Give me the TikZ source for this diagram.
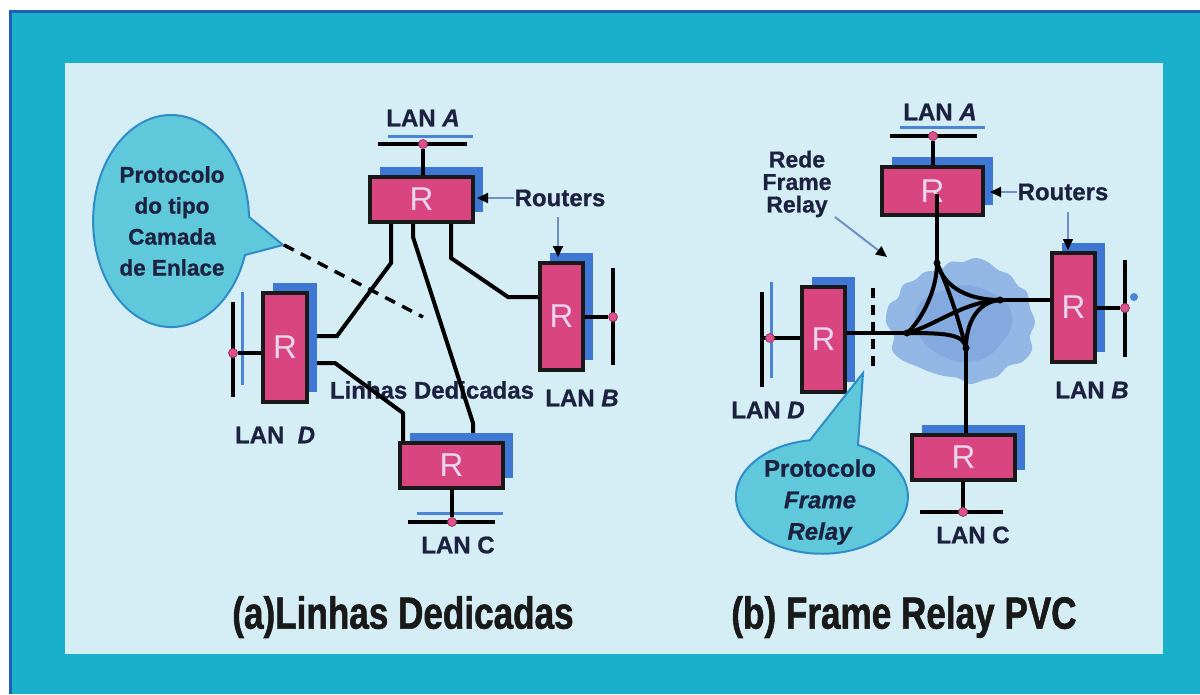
\documentclass[tikz,border=0pt]{standalone}
\usepackage{fontspec}
\setmainfont{Liberation Sans}[BoldFeatures={FakeBold=0.8}, BoldItalicFeatures={FakeBold=0.8}]
\newfontfamily\capfont{Liberation Sans}[FakeStretch=0.78, BoldFeatures={FakeBold=1.2}]
\usetikzlibrary{shadows,arrows.meta,calc}
\definecolor{tealbg}{HTML}{1AAFCB}
\definecolor{borderblue}{HTML}{1F5FB8}
\definecolor{panel}{HTML}{D5EEF5}
\definecolor{routerpink}{HTML}{D9467F}
\definecolor{shadowblue}{HTML}{3F78D4}
\definecolor{rtext}{HTML}{E8D6F0}
\definecolor{navy}{HTML}{1C2140}
\definecolor{lanblue}{HTML}{4A84D6}
\definecolor{dotpink}{HTML}{E0508A}
\definecolor{bubblefill}{HTML}{5FC9DB}
\definecolor{bubbleline}{HTML}{2E8CC8}
\definecolor{arrowgray}{HTML}{6F8FC6}
\definecolor{cloudA}{HTML}{93B7E5}
\definecolor{cloudB}{HTML}{7099D6}
\tikzset{
  router/.style={draw=black!90, line width=4pt, fill=routerpink, inner sep=0pt,
    font=\fontsize{33}{35}\selectfont, text=rtext,
    general shadow={fill=shadowblue, shadow xshift=10pt, shadow yshift=10pt}},
  lbl/.style={font=\fontsize{24}{26}\selectfont\bfseries, text=navy, inner sep=0pt},
  link/.style={draw=black, line width=4pt},
  bus/.style={draw=black, line width=4.5pt},
  busblue/.style={draw=lanblue, line width=3pt},
  landot/.style={circle, fill=dotpink, draw=dotpink!70!black, line width=0.8pt, minimum size=9pt, inner sep=0pt},
  ptr/.style={draw=arrowgray, line width=2pt, -{Triangle[length=11pt,width=10pt,color=black]}},
  bubble/.style={fill=bubblefill, draw=bubbleline, line width=2pt},
  caption/.style={font=\capfont\fontsize{45}{48}\selectfont\bfseries, text=black!90, inner sep=0pt}
}
\begin{document}
\begin{tikzpicture}[x=1pt,y=-1pt]
\useasboundingbox (0,0) rectangle (1200,694);
\fill[white] (0,0) rectangle (1200,694);
\fill[tealbg] (10,11) rectangle (1200,694);
\draw[borderblue, line width=3pt] (10,694) -- (10,11) -- (1200,11);
\fill[panel] (65,63) rectangle (1163,654);

% ================= LEFT: Linhas Dedicadas =================
\node[lbl] (ld) at (432,390) {Linhas Dedicadas};

% links
\draw[link] (391,222) -- (391,263) -- (337,336) -- (307,336);
\draw[link] (413,222) -- (413,237) -- (473,423) -- (473,443);
\draw[link] (451,222) -- (451,258) -- (508,297) -- (540,297);
\draw[link] (307,363) -- (335,363) -- (403,413) -- (403,443);

% routers
\node[router, minimum width=103pt, minimum height=45pt] (rA) at (421.5,199.5) {R};
\node[router, minimum width=43pt, minimum height=107pt] (rB) at (561.5,316.5) {R};
\node[router, minimum width=44pt, minimum height=109pt] (rD) at (285,347.5) {R};
\node[router, minimum width=103pt, minimum height=45pt] (rC) at (451.5,465.5) {R};

% LAN A
\draw[busblue] (388,136) -- (473,136);
\draw[bus] (378,144) -- (467,144);
\node[landot] (dA) at (423,144) {};
\draw[link] (dA) -- (dA |- rA.north);
% LAN B
\draw[bus] (613,268) -- (613,365);
\node[landot] (dB) at (613,317) {};
\draw[link] (rB.east |- dB) -- (dB);
% LAN D
\draw[busblue] (242,292) -- (242,385);
\draw[bus] (233,302) -- (233,397);
\node[landot] (dD) at (233,353) {};
\draw[link] (dD) -- (rD.west |- dD);
% LAN C
\draw[busblue] (417,513) -- (503,513);
\draw[bus] (408,522) -- (495,522);
\node[landot] (dC) at (452,522) {};
\draw[link] (dC) -- (dC |- rC.south);

\node[lbl] (lanA) at (423,118) {LAN \textit{A}};
\node[lbl] (lanB) at (582,398) {LAN \textit{B}};
\node[lbl] (lanD) at (275,435) {LAN\ \ \textit{D}};
\node[lbl] (lanC) at (458,545) {LAN C};

% routers pointer
\node[lbl] (rtL) at (560,198) {Routers};
\draw[ptr] (rtL.west) -- (477,198);
\draw[ptr] (558,217) -- (558,257);

% bubble left
\draw[bubble] (245,255) arc[start angle=18.7, end angle=357.8, x radius=78, y radius=106] -- (283,245) -- cycle;
\node[font=\fontsize{22.5}{31}\selectfont\bfseries, text=navy, align=center, inner sep=0pt] (bubL) at (172,221) {Protocolo\\do tipo\\Camada\\de Enlace};
\coordinate (tipL) at (284,245);
\coordinate (dashEnd) at (423,317);
\draw[black, line width=3.5pt, dash pattern=on 11pt off 8pt] (tipL) -- (dashEnd);

% ================= RIGHT: Frame Relay PVC =================
% cloud
\fill[cloudA] plot[smooth cycle, tension=0.6] coordinates {(886,322) (889,305) (898,298) (903,285) (915,280) (925,272) (940,270) (950,262) (963,262) (975,258) (988,262) (998,270) (1010,275) (1018,286) (1027,292) (1030,308) (1035,322) (1030,336) (1032,350) (1022,362) (1008,366) (998,376) (984,380) (970,384) (958,378) (944,376) (930,372) (916,366) (902,360) (892,350) (894,336)};
\fill[cloudB, opacity=0.45] plot[smooth cycle, tension=0.6] coordinates {(915,315) (925,298) (945,290) (965,285) (990,292) (1008,305) (1012,325) (1000,345) (985,358) (962,362) (940,355) (922,340)};

\coordinate (T) at (937,263);
\coordinate (Rt) at (1000,300);
\coordinate (Bt) at (966,348);
\coordinate (L) at (907,333);

% routers
\node[router, minimum width=101pt, minimum height=48pt] (qA) at (932.5,191) {R};
\node[router, minimum width=43pt, minimum height=109pt] (qB) at (1073.5,307.5) {R};
\node[router, minimum width=43pt, minimum height=105pt] (qD) at (823.5,339.5) {R};
\node[router, minimum width=103pt, minimum height=45pt] (qC) at (963.5,457.5) {R};

% access lines
\draw[link] (T |- qA.center) ++(0,3) -- (T);
\draw[link] (qD.east |- L) -- (L);
\draw[link] (Rt) -- (qB.west |- Rt);
\draw[link] (Bt) -- (Bt |- qC.north);
% PVC mesh
\draw[link] (T) .. controls (937,292) and (920,322) .. (L);
\draw[link] (T) .. controls (945,290) and (972,300) .. (Rt);
\draw[link] (Rt) .. controls (976,302) and (966,325) .. (Bt);
\draw[link] (L) .. controls (945,333) and (964,334) .. (Bt);
\draw[link] (T) .. controls (950,292) and (958,318) .. (Bt);
\draw[link] (L) .. controls (935,326) and (962,302) .. (Rt);
\foreach \p in {T,Rt,Bt,L} \fill[black] (\p) circle (3.5pt);

% dashed boundary
\coordinate (dsTop) at (873,288);
\coordinate (dsBot) at (873,372);
\draw[black, line width=3.5pt, dash pattern=on 10pt off 7pt] (dsTop) -- (dsBot);

% LAN A
\draw[busblue] (900,127) -- (985,127);
\draw[bus] (890,136) -- (977,136);
\node[landot] (eA) at (933,136) {};
\draw[link] (eA) -- (eA |- qA.north);
% LAN B
\draw[bus] (1125,260) -- (1125,357);
\node[landot] (eB) at (1125,308) {};
\draw[link] (qB.east |- eB) -- (eB);
\fill[lanblue] (1134,297) circle (4pt);
% LAN D
\draw[busblue] (771,282) -- (771,378);
\draw[bus] (762,292) -- (762,387);
\draw[link] (762,338) -- (qD.west |- 0,338);
\node[landot] (eD) at (770,338) {};
% LAN C
\draw[bus] (920,512) -- (1003,512);
\draw[link] (qC.south -| 963,0) -- (963,512);
\node[landot] (eC) at (963,512) {};

\node[lbl] (lanA2) at (940,112) {LAN \textit{A}};
\node[lbl] (lanB2) at (1092,390) {LAN \textit{B}};
\node[lbl] (lanD2) at (768,410) {LAN \textit{D}};
\node[lbl] (lanC2) at (973,535) {LAN C};

\node[lbl] (rtR) at (1063,192) {Routers};
\draw[ptr] (rtR.west) -- (990,192);
\draw[ptr] (1068,212) -- (1068,250);

\node[font=\fontsize{23}{22.5}\selectfont\bfseries, text=navy, align=center, inner sep=0pt] (rfr) at (797,184) {Rede\\Frame\\Relay};
\draw[ptr] (835,217) -- (887,257);

% bubble right
\draw[bubble] (858,445) arc[start angle=-65.2, end angle=261.9, x radius=86, y radius=57] -- (863,373) -- cycle;
\node[font=\fontsize{24}{31.5}\selectfont\bfseries, text=navy, align=center, inner sep=0pt] (bubR) at (820,502) {Protocolo\\\textit{Frame}\\\textit{Relay}};

% captions
\node[caption] (capA) at (403,617) {(a)Linhas Dedicadas};
\node[caption] (capB) at (904,617) {(b) Frame Relay PVC};
\end{tikzpicture}
\end{document}
